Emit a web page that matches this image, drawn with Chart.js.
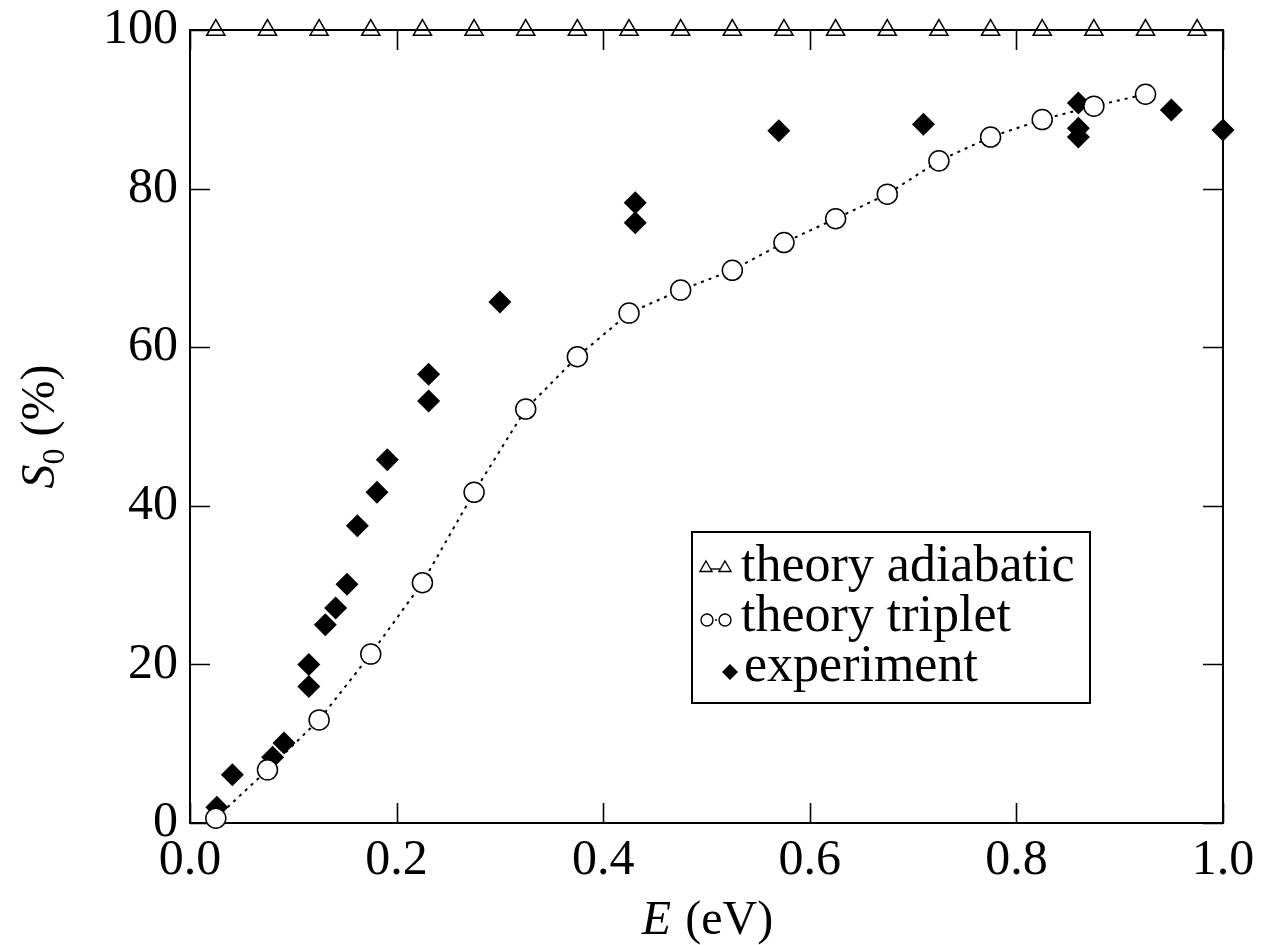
<!DOCTYPE html>
<html><head><meta charset="utf-8">
<script src="https://cdn.jsdelivr.net/npm/chart.js@4.4.1/dist/chart.umd.min.js"></script>
<style>html,body{margin:0;padding:0;background:#fff;overflow:hidden}#wrap{width:1261px;height:945px;position:relative}</style>
</head><body><div id="wrap"><canvas id="c" width="1261" height="945"></canvas></div>
<script>
// ---- data ----
const adiabaticE = [0.025,0.075,0.125,0.175,0.225,0.275,0.325,0.375,0.425,0.475,0.525,0.575,0.625,0.675,0.725,0.775,0.825,0.875,0.925,0.975];
const adiabaticS = [100,100,100,100,100,100,100,100,100,100,100,100,100,100,100,100,100,100,100,100];
const tripletE = [0.025,0.075,0.125,0.175,0.225,0.275,0.325,0.375,0.425,0.475,0.525,0.575,0.625,0.675,0.725,0.775,0.825,0.875,0.925];
const tripletS = [0.6,6.7,13.0,21.3,30.3,41.7,52.2,58.8,64.3,67.2,69.7,73.2,76.2,79.3,83.5,86.5,88.7,90.4,91.9];
const experimentE = [0.026,0.041,0.080,0.091,0.115,0.115,0.131,0.141,0.152,0.162,0.181,0.191,0.231,0.231,0.300,0.431,0.431,0.570,0.710,0.860,0.860,0.860,0.950,1.000];
const experimentS = [2.0,6.1,8.3,10.1,17.2,20.0,25.0,27.1,30.1,37.5,41.7,45.8,53.2,56.6,65.7,75.7,78.2,87.3,88.1,86.5,87.6,90.8,89.9,87.4];
const xTickLabels = ['0.0','0.2','0.4','0.6','0.8','1.0'];
const yTickLabels = ['0','20','40','60','80','100'];
const seriesLabels = ['theory adiabatic','theory triplet','experiment'];
const xTitle = ['E',' (eV)'];
const yTitle = ['S','0',' (%)'];

const SERIF = '"Liberation Serif","DejaVu Serif",serif';
const toPts = (xs, ys) => xs.map((v,i)=>({x:v,y:ys[i]}));

const frameTicks = {
  id:'frameTicks',
  beforeDatasetsDraw(chart){
    const {ctx, chartArea:a, scales:{x,y}} = chart;
    ctx.save();
    ctx.strokeStyle='#000';
    ctx.lineWidth=2;
    ctx.strokeRect(a.left, a.top, a.right-a.left, a.bottom-a.top);
    ctx.lineWidth=1.6;
    const L=20;
    ctx.beginPath();
    x.ticks.forEach(t=>{const p=Math.round(x.getPixelForValue(t.value))+0.5;
      ctx.moveTo(p,a.bottom);ctx.lineTo(p,a.bottom-L);ctx.moveTo(p,a.top);ctx.lineTo(p,a.top+L);});
    y.ticks.forEach(t=>{const p=Math.round(y.getPixelForValue(t.value))+0.5;
      ctx.moveTo(a.left,p);ctx.lineTo(a.left+L,p);ctx.moveTo(a.right,p);ctx.lineTo(a.right-L,p);});
    ctx.stroke();
    ctx.restore();
  },
  afterDraw(chart){
    const {ctx, chartArea:a} = chart;
    ctx.save();
    ctx.fillStyle='#000';
    ctx.textBaseline='alphabetic';
    const fi='italic 48px '+SERIF, fn='48px '+SERIF;
    ctx.font=fi; const w1=ctx.measureText(xTitle[0]).width;
    ctx.font=fn; const w2=ctx.measureText(xTitle[1]).width;
    let cx=(a.left+a.right)/2 - (w1+w2)/2, by=934;
    ctx.font=fi; ctx.fillText(xTitle[0],cx,by);
    ctx.font=fn; ctx.fillText(xTitle[1],cx+w1+2,by);
    ctx.translate(54,(a.top+a.bottom)/2);
    ctx.rotate(-Math.PI/2);
    const fs='32px '+SERIF;
    ctx.font=fi; const s1=ctx.measureText(yTitle[0]).width;
    ctx.font=fs; const s2=ctx.measureText(yTitle[1]).width;
    ctx.font=fn; const s3=ctx.measureText(yTitle[2]).width;
    let sx=-(s1+s2+s3)/2;
    ctx.font=fi; ctx.fillText(yTitle[0],sx,0);
    ctx.font=fs; ctx.fillText(yTitle[1],sx+s1,10);
    ctx.font=fn; ctx.fillText(yTitle[2],sx+s1+s2,0);
    ctx.restore();

    ctx.save();
    const bx=692, bt=532, bw=398, bh=171;
    ctx.fillStyle='#fff'; ctx.fillRect(bx,bt,bw,bh);
    ctx.strokeStyle='#000'; ctx.lineWidth=2; ctx.strokeRect(bx,bt,bw,bh);
    const rows=[567,617,667];
    ctx.lineWidth=1.4;
    const tri=(x,y,r)=>{ctx.beginPath();ctx.moveTo(x,y-r);ctx.lineTo(x+r*0.866,y+r*0.5);ctx.lineTo(x-r*0.866,y+r*0.5);ctx.closePath();ctx.fillStyle='#fff';ctx.fill();ctx.stroke();};
    ctx.beginPath();ctx.moveTo(708,rows[0]+2);ctx.lineTo(722,rows[0]+2);ctx.stroke();
    tri(706,rows[0]+1,7); tri(725,rows[0]+1,7);
    ctx.save();ctx.setLineDash([2,3]);ctx.beginPath();ctx.moveTo(710,rows[1]+3);ctx.lineTo(722,rows[1]+3);ctx.stroke();ctx.restore();
    [707,725].forEach(xx=>{ctx.beginPath();ctx.arc(xx,rows[1]+3,6,0,Math.PI*2);ctx.fillStyle='#fff';ctx.fill();ctx.stroke();});
    ctx.fillStyle='#000';ctx.beginPath();ctx.moveTo(730-8,rows[2]+5);ctx.lineTo(730,rows[2]-3);ctx.lineTo(730+8,rows[2]+5);ctx.lineTo(730,rows[2]+13);ctx.closePath();ctx.fill();
    ctx.font='52px '+SERIF; ctx.fillStyle='#000'; ctx.textBaseline='middle';
    ctx.fillText(seriesLabels[0],741,rows[0]);
    ctx.fillText(seriesLabels[1],741,rows[1]);
    ctx.fillText(seriesLabels[2],744,rows[2]);
    ctx.restore();
  }
};

new Chart(document.getElementById('c'), {
  type:'scatter',
  data:{datasets:[
    {label:seriesLabels[0], data:toPts(adiabaticE,adiabaticS), showLine:true, borderColor:'#000', borderWidth:2,
     pointStyle:'triangle', pointRadius:10.5, pointBorderWidth:1.5, pointBorderColor:'#000', pointBackgroundColor:'rgba(255,255,255,0)', clip:false},
    {label:seriesLabels[1], data:toPts(tripletE,tripletS), showLine:true, borderColor:'#000', borderWidth:2, borderDash:[3,5],
     pointStyle:'circle', pointRadius:10, pointBorderWidth:1.5, pointBorderColor:'#000', pointBackgroundColor:'#fff', clip:false},
    {label:seriesLabels[2], data:toPts(experimentE,experimentS), showLine:false,
     pointStyle:'rectRot', pointRadius:11.5, pointBorderWidth:0, pointBackgroundColor:'#000', pointBorderColor:'#000', clip:false}
  ]},
  options:{
    responsive:false, animation:false, devicePixelRatio:1,
    layout:{padding:{top:30,right:38,left:0,bottom:0}},
    plugins:{legend:{display:false}, tooltip:{enabled:false}},
    scales:{
      x:{type:'linear', min:0, max:1, border:{display:false}, grid:{display:false, drawTicks:false},
         afterFit(s){s.height=122; s.paddingLeft=0; s.paddingRight=0;},
         ticks:{stepSize:0.2, padding:8, color:'#000', font:{family:SERIF,size:50}, maxRotation:0,
                callback:(v,i)=>xTickLabels[i]}},
      y:{type:'linear', min:0, max:100, border:{display:false}, grid:{display:false, drawTicks:false},
         afterFit(s){s.width=190; s.paddingTop=0; s.paddingBottom=0;},
         ticks:{stepSize:20, padding:12, color:'#000', font:{family:SERIF,size:50},
                callback:(v,i)=>yTickLabels[i]}}
    }
  },
  plugins:[frameTicks]
});
</script></body></html>
